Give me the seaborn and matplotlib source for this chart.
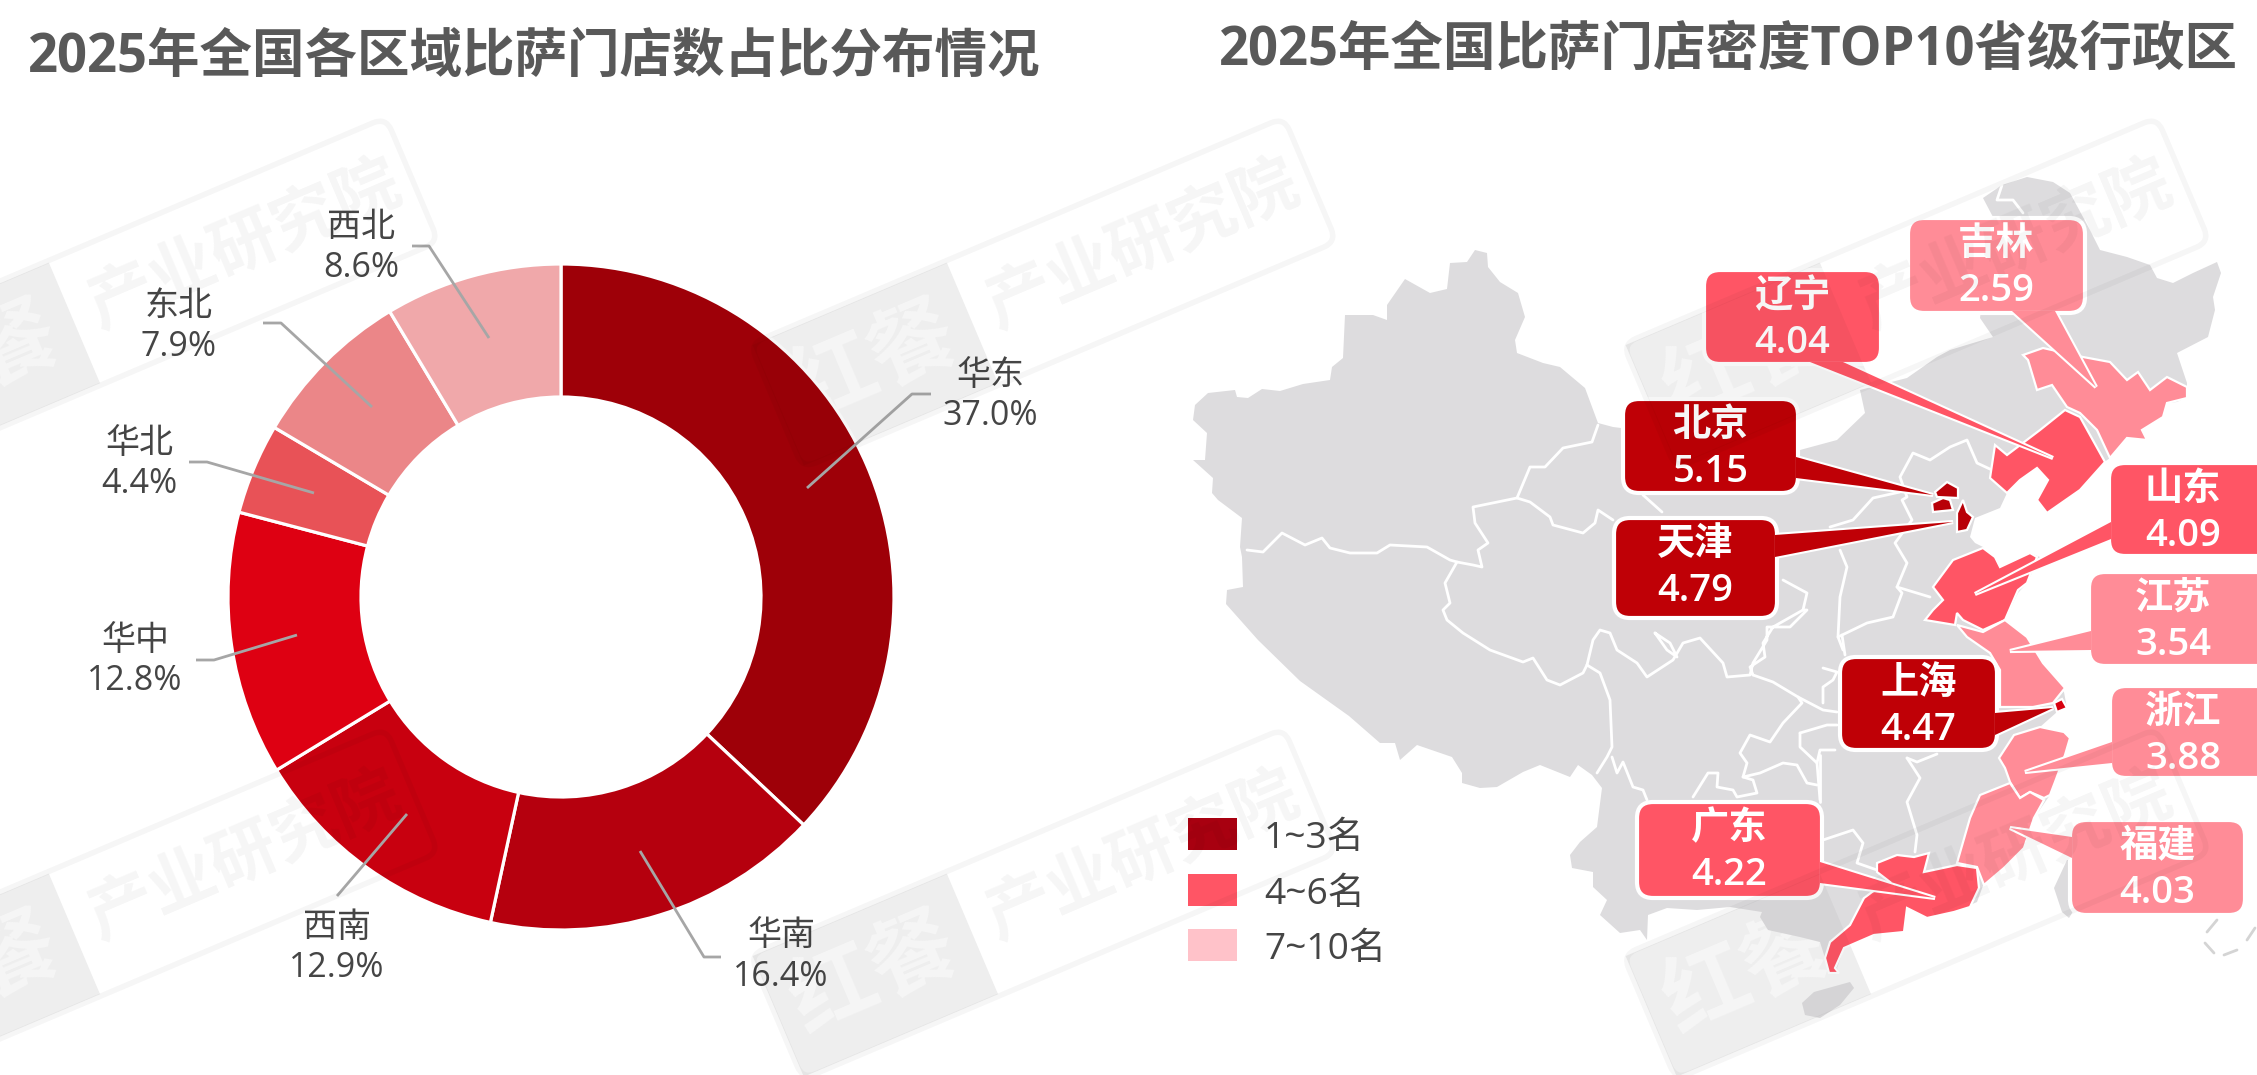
import numpy as np
import matplotlib
matplotlib.use("Agg")
import matplotlib.pyplot as plt
import seaborn as sns
from matplotlib.patches import FancyBboxPatch, Polygon, Rectangle
from matplotlib.transforms import Affine2D

sns.set_theme(style="white")
plt.rcParams["font.family"] = ["Open Sans", "Noto Sans CJK SC", "DejaVu Sans"]

W, H = 2257, 1075

TITLE_LEFT = "2025年全国各区域比萨门店数占比分布情况"
TITLE_RIGHT = "2025年全国比萨门店密度TOP10省级行政区"

# Regional share of pizza stores (%)
regions = ["华东", "华南", "西南", "华中", "华北", "东北", "西北"]
shares = [37.0, 16.4, 12.9, 12.8, 4.4, 7.9, 8.6]
region_colors = ["#9E0008", "#B5000E", "#C8000F", "#DE0012", "#E85257", "#EB8688", "#F0A8AA"]

# Label anchors and leader lines around the ring, in canvas pixels
region_label_xy = [(990, 393), (781, 954), (337, 945), (135, 658), (139, 461), (179, 324), (361, 245)]
region_leaders = [
    [(931, 394), (912, 394), (807, 488)],
    [(721, 957), (704, 957), (640, 851)],
    [(337, 896), (407, 814)],
    [(196, 660), (214, 660), (297, 635)],
    [(189, 462), (207, 462), (314, 493)],
    [(263, 323), (281, 323), (372, 407)],
    [(412, 246), (429, 246), (489, 338)],
]

# Store density of the top provinces
provinces = ["北京", "天津", "上海", "广东", "山东", "辽宁", "福建", "浙江", "江苏", "吉林"]
densities = ["5.15", "4.79", "4.47", "4.22", "4.09", "4.04", "4.03", "3.88", "3.54", "2.59"]
tier_dark, tier_mid, tier_light = "#BF0006", "#FF5565", "#FF8C97"
province_colors = [tier_dark] * 3 + [tier_mid] * 3 + [tier_light] * 4
province_boxes = [
    (1623, 399, 1798, 493), (1614, 518, 1777, 618), (1840, 657, 1997, 750),
    (1637, 802, 1822, 898), (2109, 463, 2275, 556), (1704, 270, 1881, 364),
    (2070, 820, 2245, 915), (2110, 686, 2275, 778), (2089, 572, 2275, 666),
    (1908, 218, 2085, 313),
]
province_pointers = [
    [(1796, 457), (1933, 495), (1796, 478)],
    [(1775, 535), (1953, 522), (1775, 557)],
    [(1995, 713), (2053, 708), (1995, 735)],
    [(1820, 862), (1935, 898), (1820, 883)],
    [(2111, 522), (1975, 594), (2111, 539)],
    [(1810, 362), (2053, 458), (1843, 362)],
    [(2072, 837), (2010, 828), (2072, 858)],
    [(2112, 742), (2025, 772), (2112, 763)],
    [(2091, 631), (2010, 651), (2091, 650)],
    [(2012, 311), (2096, 387), (2055, 311)],
]

legend_labels = ["1~3名", "4~6名", "7~10名"]
legend_colors = ["#A80010", "#FF5565", "#FFC2C9"]

# Map outlines in canvas pixels
mainland = [
    (1193, 420), (1195, 405), (1208, 393), (1235, 390), (1237, 397), (1248, 398), (1262, 389),
    (1280, 391), (1303, 384), (1330, 380), (1332, 367), (1343, 358), (1345, 315), (1373, 315),
    (1387, 320), (1387, 305), (1405, 279), (1430, 293), (1447, 289), (1450, 263), (1467, 262),
    (1475, 250), (1487, 253), (1488, 267), (1500, 282), (1518, 293), (1525, 317), (1515, 340),
    (1517, 353), (1543, 363), (1560, 367), (1585, 388), (1598, 423), (1613, 427), (1800, 450),
    (1837, 440), (1865, 413), (1860, 390), (1907, 378), (1937, 357), (1950, 350), (1993, 337),
    (1980, 318), (1993, 217), (1983, 198), (2002, 185), (2027, 177), (2053, 182), (2070, 193),
    (2090, 230), (2100, 250), (2127, 257), (2150, 265), (2157, 278), (2173, 283), (2193, 273),
    (2217, 262), (2221, 273), (2213, 297), (2215, 310), (2208, 337), (2177, 353), (2187, 383),
    (2187, 397), (2177, 402), (2167, 403), (2163, 417), (2142, 430), (2147, 440), (2127, 438),
    (2110, 458), (2103, 463), (2080, 490), (2047, 513), (2037, 500), (2048, 480), (2037, 468),
    (2020, 480), (2007, 493), (2000, 508), (1975, 518), (1970, 537), (1975, 543), (1983, 547),
    (1993, 557), (2000, 567), (2030, 553), (2040, 557), (2027, 583), (2018, 593), (2005, 620),
    (2027, 637), (2043, 663), (2063, 687), (2067, 708), (2057, 712), (2040, 727), (2064, 732),
    (2070, 738), (2065, 755), (2055, 782), (2050, 795), (2034, 818), (2024, 848), (2004, 868),
    (1984, 883), (1977, 902), (1954, 912), (1927, 918), (1907, 908), (1904, 932), (1874, 935),
    (1844, 948), (1837, 968), (1839, 973), (1829, 973), (1825, 958), (1820, 942), (1800, 937),
    (1768, 930), (1760, 917), (1762, 912), (1730, 907), (1697, 910), (1667, 908), (1648, 915),
    (1647, 940), (1640, 930), (1620, 933), (1600, 915), (1607, 900), (1593, 887), (1593, 872),
    (1572, 868), (1570, 855), (1580, 842), (1597, 827), (1602, 788), (1592, 775), (1578, 765),
    (1570, 777), (1540, 765), (1523, 772), (1497, 787), (1480, 788), (1462, 783), (1462, 773),
    (1452, 757), (1417, 745), (1400, 760), (1395, 743), (1380, 743), (1349, 716), (1300, 681),
    (1258, 640), (1226, 604), (1227, 590), (1243, 587), (1242, 557), (1240, 547), (1242, 518),
    (1218, 500), (1212, 493), (1213, 478), (1193, 460), (1205, 460), (1207, 433),
]
taiwan = [(2067, 860), (2054, 888), (2062, 912), (2069, 918), (2080, 900), (2085, 860)]
hainan = [(1802, 1003), (1814, 992), (1850, 982), (1854, 988), (1840, 1005), (1820, 1018), (1805, 1015)]

province_shapes = {
    "吉林": [[(2023, 355), (2043, 348), (2083, 357), (2110, 362), (2127, 380), (2138, 372), (2150, 390),
              (2167, 377), (2187, 387), (2187, 398), (2167, 403), (2163, 417), (2142, 430), (2147, 440),
              (2127, 438), (2110, 458), (2097, 430), (2080, 413), (2067, 407), (2052, 385), (2037, 390),
              (2028, 360)]],
    "辽宁": [[(2065, 410), (2080, 417), (2105, 462), (2080, 490), (2047, 513), (2037, 500), (2048, 480),
              (2037, 468), (2020, 480), (2007, 493), (1990, 478), (1995, 445), (2007, 455), (2040, 430)]],
    "北京": [[(1935, 492), (1947, 482), (1958, 488), (1958, 498), (1937, 497)],
             [(1932, 503), (1943, 498), (1950, 500), (1953, 510), (1933, 512)]],
    "天津": [[(1963, 500), (1967, 512), (1973, 517), (1967, 530), (1957, 532), (1957, 513)]],
    "山东": [[(1925, 620), (1933, 610), (1943, 600), (1933, 587), (1953, 560), (1983, 548), (1995, 557),
              (2000, 567), (2030, 553), (2037, 557), (2027, 583), (2018, 590), (2005, 620), (1983, 630),
              (1963, 620), (1957, 613), (1955, 625)]],
    "江苏": [[(1957, 625), (1983, 632), (2005, 620), (2027, 637), (2043, 663), (2065, 688), (2053, 703),
              (2033, 707), (2000, 707), (2000, 670), (1990, 653), (1967, 637)]],
    "上海": [[(2054, 703), (2062, 699), (2067, 708), (2057, 712)]],
    "浙江": [[(1999, 758), (2014, 735), (2040, 727), (2064, 732), (2070, 738), (2065, 755), (2055, 782),
              (2050, 795), (2044, 798), (2030, 792), (2020, 798), (2010, 782), (2005, 768)]],
    "福建": [[(2010, 783), (2020, 798), (2030, 792), (2044, 800), (2034, 818), (2024, 848), (2004, 868),
              (1984, 885), (1977, 867), (1957, 863), (1970, 818), (1980, 795)]],
    "广东": [[(1877, 863), (1897, 855), (1914, 857), (1929, 853), (1924, 872), (1957, 865), (1977, 868),
              (1979, 888), (1970, 907), (1954, 912), (1927, 918), (1907, 908), (1904, 932), (1874, 935),
              (1844, 948), (1835, 968), (1839, 973), (1829, 973), (1825, 958), (1830, 942), (1850, 925),
              (1864, 898), (1872, 892), (1890, 882), (1877, 872)]],
}
province_shape_colors = {"吉林": tier_light, "辽宁": tier_mid, "北京": "#B80008", "天津": "#B80008",
                         "山东": tier_mid, "江苏": tier_light, "上海": "#D8000F", "浙江": tier_light,
                         "福建": tier_light, "广东": tier_mid}

inner_borders = [
    [(1598, 425), (1592, 442), (1563, 448), (1545, 467), (1530, 467), (1517, 498), (1473, 507), (1475, 523),
     (1488, 543), (1478, 550), (1482, 567), (1473, 565), (1457, 562)],
    [(1247, 550), (1263, 552), (1282, 533), (1305, 545), (1322, 538), (1330, 548), (1350, 553), (1377, 553),
     (1390, 545), (1427, 547), (1450, 560), (1457, 562), (1445, 583), (1450, 603), (1443, 610), (1447, 620),
     (1463, 633), (1490, 650), (1523, 662), (1533, 658), (1547, 680), (1560, 685), (1583, 673), (1587, 665)],
    [(1517, 498), (1530, 502), (1550, 517), (1553, 525), (1583, 533), (1595, 523), (1598, 510), (1613, 520)],
    [(1587, 665), (1593, 640), (1600, 630), (1610, 633), (1617, 650), (1637, 663), (1647, 677), (1673, 660),
     (1683, 643), (1700, 638), (1723, 663), (1727, 677), (1750, 675), (1753, 663), (1767, 640), (1767, 627),
     (1790, 627), (1807, 610), (1803, 610), (1773, 627), (1763, 643), (1765, 657), (1750, 667), (1753, 675)],
    [(1587, 665), (1600, 673), (1610, 700), (1612, 747), (1607, 757), (1597, 773)],
    [(1612, 757), (1617, 773), (1623, 762), (1633, 787), (1643, 790), (1647, 800)],
    [(1693, 797), (1708, 773), (1718, 773), (1717, 787), (1733, 790), (1737, 797), (1757, 793), (1753, 780),
     (1743, 777), (1747, 763), (1740, 753), (1750, 735), (1770, 742), (1783, 723), (1802, 703), (1798, 697),
     (1773, 682), (1753, 675)],
    [(1798, 697), (1823, 710), (1837, 712)],
    [(1743, 777), (1760, 773), (1783, 763), (1797, 765), (1807, 783), (1817, 785)],
    [(1800, 733), (1827, 725), (1837, 725)],
    [(1800, 733), (1800, 747), (1817, 763), (1820, 750), (1835, 750)],
    [(1817, 763), (1820, 800)],
    [(1823, 840), (1853, 830), (1863, 843), (1857, 863), (1877, 870)],
    [(1820, 755), (1820, 802)],
    [(1907, 758), (1920, 778), (1907, 802), (1917, 835), (1915, 852)],
    [(1907, 758), (1917, 762), (1937, 754)],
    [(1840, 550), (1847, 567), (1840, 597), (1838, 637), (1843, 650)],
    [(1838, 637), (1867, 623), (1893, 617), (1902, 593), (1897, 587), (1907, 563), (1895, 543), (1912, 520),
     (1902, 500), (1907, 497), (1900, 477), (1913, 453), (1930, 460), (1950, 447), (1967, 440), (1977, 463),
     (1992, 470)],
    [(1897, 587), (1930, 597)],
    [(1830, 527), (1853, 520), (1873, 498), (1900, 492)],
    [(1783, 580), (1807, 593), (1803, 610)],
    [(1823, 668), (1837, 672), (1833, 680), (1823, 687), (1823, 703)],
    [(1842, 635), (1845, 655)],
    [(1655, 633), (1667, 650), (1677, 657), (1670, 643), (1655, 633)],
    [(1643, 495), (1662, 512)],
    [(2002, 185), (1997, 200), (2013, 200), (2023, 213)],
    [(2031, 684), (2047, 685), (2054, 690), (2066, 690)],
]

# South China Sea boundary dashes
sea_dashes = [[(2217, 920), (2207, 932)], [(2205, 943), (2214, 953)], [(2224, 955), (2237, 950)],
              [(2247, 940), (2255, 928)]]

# Watermark tile corners (upper-left of each tile)
mark_origins = [(-148, 344), (750, 344), (1623, 344), (-148, 955), (750, 955), (1623, 955)]
MARK_ANGLE = np.deg2rad(23)
MARK_SIZE = (580, 135)

fig = plt.figure(figsize=(W / 100, H / 100), dpi=100, facecolor="white")


def canvas_axes(zorder):
    a = fig.add_axes([0, 0, 1, 1], zorder=zorder)
    a.set_xlim(0, W)
    a.set_ylim(H, 0)
    a.axis("off")
    a.patch.set_alpha(0)
    return a


ca, sa = np.cos(MARK_ANGLE), np.sin(MARK_ANGLE)
L, T = MARK_SIZE

# Watermark logo blocks sit under the chart layers
ax_bg = canvas_axes(0)
for ox, oy in mark_origins:
    tr = Affine2D.from_values(ca, -sa, sa, ca, ox, oy) + ax_bg.transData
    ax_bg.add_patch(Rectangle((2, 2), 211, T - 4, facecolor="#F7F7F7", edgecolor="none", transform=tr))
    ux, uy = ox + 106 * ca + 70 * sa, oy - 106 * sa + 70 * ca
    ax_bg.text(ux, uy, "红餐", fontsize=62, fontweight="bold", color="white", rotation=23,
               rotation_mode="anchor", ha="center", va="center", clip_on=True)

# Donut of regional shares
cx, cy, r_out, r_in = 561, 597, 333, 200
ax_pie = fig.add_axes([(cx - r_out - 4) / W, 1 - (cy + r_out + 4) / H, (2 * r_out + 8) / W, (2 * r_out + 8) / H],
                      zorder=1)
palette = sns.color_palette(region_colors)
ax_pie.pie(shares, colors=palette, startangle=90, counterclock=False, radius=r_out,
           wedgeprops=dict(width=r_out - r_in, edgecolor="white", linewidth=2.3))
ax_pie.set_xlim(-r_out - 4, r_out + 4)
ax_pie.set_ylim(-r_out - 4, r_out + 4)
ax_pie.set_aspect("equal")
ax_pie.axis("off")

# Everything else is placed on a canvas-sized axes
ax = canvas_axes(2)

TXT = "#454545"
ax.text(28, 58, TITLE_LEFT, fontsize=37.8, fontweight="bold", color="#595959", ha="left", va="center")
ax.text(1219, 51, TITLE_RIGHT, fontsize=37.8, fontweight="bold", color="#595959", ha="left", va="center")

for line in region_leaders:
    xs, ys = zip(*line)
    ax.plot(xs, ys, color="#A6A6A6", lw=2, solid_capstyle="butt", zorder=3)
for name, val, (x, y) in zip(regions, shares, region_label_xy):
    ax.text(x, y - 17, name, fontsize=24.5, color=TXT, ha="center", va="center", zorder=4)
    ax.text(x, y + 23, f"{val:.1f}%", fontsize=24.5, color=TXT, ha="center", va="center", zorder=4)

# Map layers
GREY = "#DDDCDE"
for shape in (mainland, taiwan, hainan):
    ax.add_patch(Polygon(shape, closed=True, facecolor=GREY, edgecolor="none", zorder=2))
for line in inner_borders:
    xs, ys = zip(*line)
    ax.plot(xs, ys, color="white", lw=2, solid_joinstyle="round", zorder=3)
for name, parts in province_shapes.items():
    for part in parts:
        ax.add_patch(Polygon(part, closed=True, facecolor=province_shape_colors[name], edgecolor="white",
                             linewidth=1.6, zorder=4))
for line in sea_dashes:
    xs, ys = zip(*line)
    ax.plot(xs, ys, color="#D4D4D4", lw=2, zorder=3)

# Callouts: white-edged pointer and box, then the pointer again to merge the two
for name, val, col, box, tip in zip(provinces, densities, province_colors, province_boxes, province_pointers):
    x0, y0, x1, y1 = box
    ax.add_patch(Polygon(tip, closed=True, facecolor=col, edgecolor="white", linewidth=3, zorder=6))
    ax.add_patch(FancyBboxPatch((x0 + 16, y0 + 16), x1 - x0 - 32, y1 - y0 - 32,
                                boxstyle="round,pad=16,rounding_size=16", facecolor=col, edgecolor="white",
                                linewidth=3, zorder=6))
    ax.add_patch(Polygon(tip, closed=True, facecolor=col, edgecolor="none", zorder=6.5))
    center = (x0 + min(x1, W)) / 2
    ax.text(center, y0 + 27, name, fontsize=27.5, fontweight=600, color="white", ha="center", va="center", zorder=7)
    ax.text(center, y0 + 73, val, fontsize=27.5, fontweight=600, color="white", ha="center", va="center", zorder=7)

# Legend
for label, col, y in zip(legend_labels, legend_colors, (834, 890, 945)):
    ax.add_patch(Rectangle((1188, y - 16), 49, 32, facecolor=col, edgecolor="none", zorder=4))
    ax.text(1264, y + 5, label, fontsize=26.7, color=TXT, ha="left", va="center", zorder=4)

# Faint watermark tint across all layers
MARK = (0, 0, 0, 0.035)
for ox, oy in mark_origins:
    tr = Affine2D.from_values(ca, -sa, sa, ca, ox, oy) + ax.transData
    ax.add_patch(FancyBboxPatch((14, 14), L - 28, T - 28, boxstyle="round,pad=14,rounding_size=14",
                                facecolor="none", edgecolor=MARK, linewidth=4, transform=tr, zorder=9, clip_on=True))
    ax.add_patch(Rectangle((2, 2), 211, T - 4, facecolor=MARK, edgecolor="none", transform=tr, zorder=9, clip_on=True))
    ux, uy = ox + 400 * ca + 64 * sa, oy - 400 * sa + 64 * ca
    ax.text(ux, uy, "产业研究院", fontsize=48, fontweight="bold", color=(0, 0, 0, 0.04), rotation=23,
            rotation_mode="anchor", ha="center", va="center", zorder=9, clip_on=True)

fig.savefig("out.png", dpi=100, facecolor="white")
